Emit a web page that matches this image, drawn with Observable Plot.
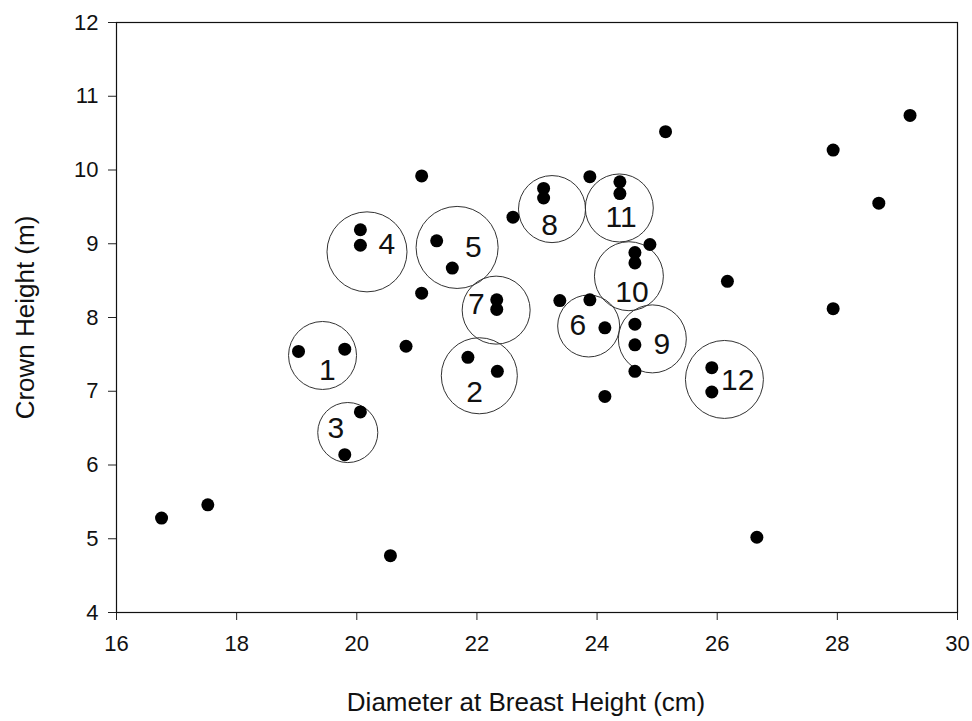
<!DOCTYPE html>
<html><head><meta charset="utf-8">
<script src="https://cdn.jsdelivr.net/npm/d3@7"></script>
<script src="https://cdn.jsdelivr.net/npm/@observablehq/plot@0.6"></script>
<style>body{margin:0;background:#fff}</style>
</head><body><div id="chart"></div>
<script>
// Tree measurements
const dbh   = [16.75,17.52,20.56,19.03,19.80,19.80,20.06,20.06,20.06,21.08,21.33,21.59,21.08,20.82,21.85,22.34,22.33,22.33,23.11,23.11,22.60,23.88,24.38,24.38,24.88,24.63,24.63,26.17,23.38,23.88,24.13,24.63,24.63,24.63,24.13,25.91,25.91,26.66,25.14,27.93,29.21,28.69,27.93];
const crown = [5.28,5.46,4.77,7.54,7.57,6.14,6.72,9.19,8.98,9.92,9.04,8.67,8.33,7.61,7.46,7.27,8.24,8.11,9.75,9.62,9.36,9.91,9.84,9.68,8.99,8.88,8.74,8.49,8.23,8.24,7.86,7.91,7.63,7.27,6.93,7.32,6.99,5.02,10.52,10.27,10.74,9.55,8.12];

// Clusters (circles)
const clusterId     = ["1","2","3","4","5","6","7","8","9","10","11","12"];
const clusterX      = [19.43,22.04,19.85,20.17,21.67,23.86,22.32,23.25,24.92,24.53,24.37,26.12];
const clusterY      = [7.485,7.21,6.44,8.89,8.95,7.885,8.10,9.47,7.71,8.56,9.485,7.16];
const clusterRadius = [0.566,0.633,0.50,0.666,0.683,0.516,0.566,0.558,0.566,0.574,0.566,0.649]; // in cm (x units)
const labelX        = [19.51,21.96,19.65,20.50,21.94,23.68,21.99,23.21,25.08,24.58,24.40,26.34];
const labelY        = [7.28,6.99,6.49,8.99,8.95,7.89,8.18,9.25,7.64,8.34,9.36,7.15];

const xTicks = [16,18,20,22,24,26,28,30];
const yTicks = [4,5,6,7,8,9,10,11,12];
const xTitle = "Diameter at Breast Height (cm)";
const yTitle = "Crown Height (m)";

const W = 972, H = 721, ML = 116, MR = 15, MT = 22, MB = 109;
const xDomain = [16,30], yDomain = [4,12];
const pxPerCm = (W - ML - MR) / (xDomain[1] - xDomain[0]);

const points = dbh.map((d,i) => ({x:d, y:crown[i]}));
const clusters = clusterId.map((id,i) => ({id, x:clusterX[i], y:clusterY[i], r:clusterRadius[i]*pxPerCm, lx:labelX[i], ly:labelY[i]}));

const font = "'Liberation Sans', Arial, sans-serif";

const chart = Plot.plot({
  width: W, height: H,
  marginLeft: ML, marginRight: MR, marginTop: MT, marginBottom: MB,
  x: {domain: xDomain},
  y: {domain: yDomain},
  r: {type: "identity"},
  style: {fontFamily: font, background: "white", color: "#111"},
  marks: [
    Plot.axisX({ticks: xTicks, tickSize: 8, tickPadding: 15, fontSize: 22, label: null, stroke: "#222"}),
    Plot.axisY({ticks: yTicks, tickSize: 8, tickPadding: 10, fontSize: 22, label: null, stroke: "#222"}),
    Plot.frame({stroke: "#111", strokeWidth: 1.2}),
    Plot.dot(clusters, {x: "x", y: "y", r: "r", stroke: "#333", strokeWidth: 1, fill: "none"}),
    Plot.dot(points, {x: "x", y: "y", r: 6.5, fill: "black", stroke: "none"}),
    Plot.text(clusters, {x: "lx", y: "ly", text: "id", fontSize: 30, fill: "#111"}),
    Plot.text([xTitle], {frameAnchor: "bottom", textAnchor: "middle", lineAnchor: "middle", dx: -11, dy: 90, fontSize: 26, fill: "#111"}),
    Plot.text([yTitle], {frameAnchor: "left", textAnchor: "middle", lineAnchor: "middle", dx: -91, rotate: -90, fontSize: 26, fill: "#111"})
  ]
});
document.getElementById("chart").append(chart);
</script>
</body></html>
